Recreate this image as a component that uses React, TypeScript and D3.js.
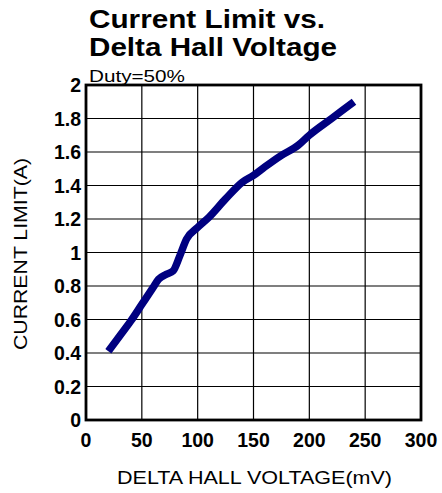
import React, { useEffect, useRef } from "react";
import * as d3 from "d3";

// Delta hall voltage (mV) vs current limit (A)
const voltage = [20, 30, 40, 50, 60, 65, 72, 78, 84, 90, 100, 110, 125, 140, 150, 160, 175, 190, 200, 220, 240];
const current = [0.41, 0.5, 0.59, 0.69, 0.79, 0.84, 0.87, 0.89, 0.98, 1.08, 1.15, 1.21, 1.32, 1.42, 1.46, 1.51, 1.58, 1.64, 1.7, 1.8, 1.9];

const xTicks = [0, 50, 100, 150, 200, 250, 300];
const yTicks = [0, 0.2, 0.4, 0.6, 0.8, 1, 1.2, 1.4, 1.6, 1.8, 2];

const titleLines = ["Current Limit vs.", "Delta Hall Voltage"];
const subtitle = "Duty=50%";
const xTitle = "DELTA HALL VOLTAGE(mV)";
const yTitle = "CURRENT LIMIT(A)";

export default function App() {
  const ref = useRef<SVGSVGElement>(null);

  useEffect(() => {
    if (!ref.current) return;
    const svg = d3.select(ref.current);
    svg.selectAll("*").remove();

    const font = "Arial, 'Liberation Sans', sans-serif";
    const margin = { top: 85, right: 21, bottom: 73, left: 86 };
    const W = 442, H = 493;
    const width = W - margin.left - margin.right;
    const height = H - margin.top - margin.bottom;

    const x = d3.scaleLinear().domain([0, 300]).range([0, width]);
    const y = d3.scaleLinear().domain([0, 2]).range([height, 0]);

    const g = svg.append("g").attr("transform", `translate(${margin.left},${margin.top})`);

    // grid
    g.selectAll("line.vgrid")
      .data(xTicks)
      .enter()
      .append("line")
      .attr("x1", (d) => x(d))
      .attr("x2", (d) => x(d))
      .attr("y1", 0)
      .attr("y2", height)
      .attr("stroke", "#000")
      .attr("stroke-width", 1.2);
    g.selectAll("line.hgrid")
      .data(yTicks)
      .enter()
      .append("line")
      .attr("x1", 0)
      .attr("x2", width)
      .attr("y1", (d) => y(d))
      .attr("y2", (d) => y(d))
      .attr("stroke", "#000")
      .attr("stroke-width", 1.2);

    // frame
    g.append("rect")
      .attr("width", width)
      .attr("height", height)
      .attr("fill", "none")
      .attr("stroke", "#000")
      .attr("stroke-width", 2.8);

    // tick labels
    g.selectAll("text.xt")
      .data(xTicks)
      .enter()
      .append("text")
      .attr("x", (d) => x(d))
      .attr("y", height + 27)
      .attr("text-anchor", "middle")
      .attr("font-family", font)
      .attr("font-weight", "bold")
      .attr("font-size", 19.5)
      .text((d) => d);
    g.selectAll("text.yt")
      .data(yTicks)
      .enter()
      .append("text")
      .attr("x", -5)
      .attr("y", (d) => y(d) + 7)
      .attr("text-anchor", "end")
      .attr("font-family", font)
      .attr("font-weight", "bold")
      .attr("font-size", 19.5)
      .text((d) => d);

    // curve
    const pts = voltage.map((v, i) => [v, current[i]] as [number, number]);
    g.append("path")
      .datum(pts)
      .attr("fill", "none")
      .attr("stroke", "#000080")
      .attr("stroke-width", 7.5)
      .attr("stroke-linejoin", "round")
      .attr("d", d3.line<[number, number]>().x((d) => x(d[0])).y((d) => y(d[1])).curve(d3.curveMonotoneX));

    // title, two lines
    svg.selectAll("text.title")
      .data(titleLines)
      .enter()
      .append("text")
      .attr("class", "title")
      .attr("x", 89)
      .attr("y", (d, i) => 28 + i * 28)
      .attr("font-family", font)
      .attr("font-weight", "bold")
      .attr("font-size", 25)
      .attr("textLength", (d, i) => (i === 0 ? 236 : 248))
      .attr("lengthAdjust", "spacingAndGlyphs")
      .text((d) => d);

    svg.append("text")
      .attr("x", 89)
      .attr("y", 82)
      .attr("font-family", font)
      .attr("font-size", 17)
      .attr("textLength", 96)
      .attr("lengthAdjust", "spacingAndGlyphs")
      .text(subtitle);

    svg.append("text")
      .attr("x", 117)
      .attr("y", 484)
      .attr("font-family", font)
      .attr("font-size", 19)
      .attr("textLength", 275)
      .attr("lengthAdjust", "spacingAndGlyphs")
      .text(xTitle);
    svg.append("text")
      .attr("transform", `translate(27,350) rotate(-90)`)
      .attr("font-family", font)
      .attr("font-size", 19)
      .attr("textLength", 192)
      .attr("lengthAdjust", "spacingAndGlyphs")
      .text(yTitle);
  }, []);

  return (
    <svg
      ref={ref}
      width={442}
      height={493}
      style={{ position: "absolute", left: 0, top: 0, background: "#fff" }}
    />
  );
}
